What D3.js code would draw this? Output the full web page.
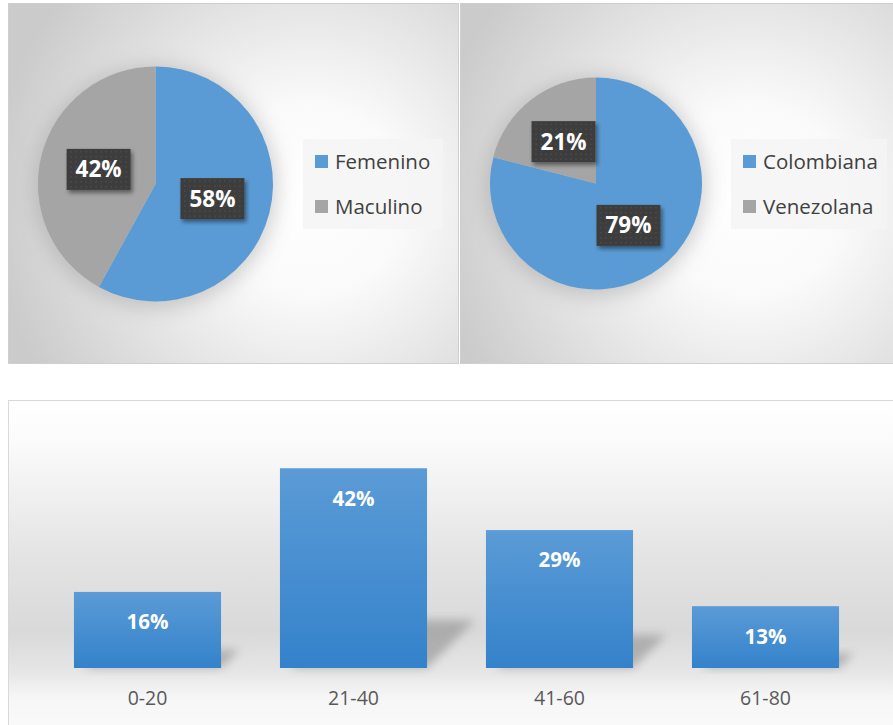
<!DOCTYPE html>
<html><head><meta charset="utf-8">
<script src="https://cdn.jsdelivr.net/npm/d3@7"></script>
<style>html,body{margin:0;padding:0;background:#fff;overflow:hidden}svg{display:block}</style>
</head><body>
<svg id="c" width="893" height="725"></svg>
<script>
const genderCats = ["Femenino", "Maculino"];
const genderVals = [0.58, 0.42];
const nationCats = ["Colombiana", "Venezolana"];
const nationVals = [0.79, 0.21];
const ageCats = ["0-20", "21-40", "41-60", "61-80"];
const ageVals = [0.16, 0.42, 0.29, 0.13];

const BLUE = "#5b9bd5", GRAY = "#a5a5a5";
const FONT = "'Open Sans', 'Liberation Sans', sans-serif";
const svg = d3.select("#c");
const defs = svg.append("defs");

function radial(id, cx, cy, r) {
  const g = defs.append("radialGradient").attr("id", id)
    .attr("gradientUnits", "userSpaceOnUse").attr("cx", cx).attr("cy", cy).attr("r", r);
  g.append("stop").attr("offset", 0).attr("stop-color", "#ffffff");
  g.append("stop").attr("offset", 0.3).attr("stop-color", "#fafafa");
  g.append("stop").attr("offset", 1).attr("stop-color", "#cbcbcb");
}
radial("bgL", 310, 200, 320);
radial("bgR", 750, 200, 320);

const lin = defs.append("linearGradient").attr("id", "bgB").attr("x1", 0).attr("y1", 0).attr("x2", 0).attr("y2", 1);
[[0, "#ffffff"], [0.12, "#fbfbfb"], [0.45, "#e4e4e4"], [0.68, "#d9d9d9"], [0.8, "#e6e6e6"], [0.87, "#f6f6f6"], [1, "#fbfbfb"]]
  .forEach(([o, c]) => lin.append("stop").attr("offset", o).attr("stop-color", c));

const barG = defs.append("linearGradient").attr("id", "barG").attr("x1", 0).attr("y1", 0).attr("x2", 0).attr("y2", 1);
barG.append("stop").attr("offset", 0).attr("stop-color", "#5b9bd6");
barG.append("stop").attr("offset", 1).attr("stop-color", "#3482cb");

const pat = defs.append("pattern").attr("id", "dots").attr("patternUnits", "userSpaceOnUse")
  .attr("width", 5).attr("height", 5);
pat.append("rect").attr("width", 5).attr("height", 5).attr("fill", "#3d3d3d");
pat.append("rect").attr("x", 2).attr("y", 2).attr("width", 1).attr("height", 1).attr("fill", "#5e5e5e");

const blur = defs.append("filter").attr("id", "blur").attr("x", "-30%").attr("y", "-30%").attr("width", "160%").attr("height", "160%");
blur.append("feGaussianBlur").attr("stdDeviation", 10);
const sblur = defs.append("filter").attr("id", "sblur").attr("x", "-40%").attr("y", "-40%").attr("width", "180%").attr("height", "180%");
sblur.append("feGaussianBlur").attr("stdDeviation", 5);
const lblSh = defs.append("filter").attr("id", "lblSh").attr("x", "-30%").attr("y", "-30%").attr("width", "160%").attr("height", "160%");
lblSh.append("feDropShadow").attr("dx", 2).attr("dy", 3).attr("stdDeviation", 2).attr("flood-color", "#000").attr("flood-opacity", 0.45);

svg.append("rect").attr("x", 8.5).attr("y", 3.5).attr("width", 450).attr("height", 360)
  .attr("fill", "url(#bgL)").attr("stroke", "#cfcfcf");
svg.append("rect").attr("x", 460.5).attr("y", 3.5).attr("width", 440).attr("height", 360)
  .attr("fill", "url(#bgR)").attr("stroke", "#cfcfcf");

function pieChart(cats, vals, cx, cy, r, legX, legW) {
  const g = svg.append("g").attr("transform", `translate(${cx},${cy})`);
  g.append("circle").attr("r", r + 4).attr("cy", 3).attr("fill", "#8f8f8f").attr("opacity", 0.4).attr("filter", "url(#blur)");
  const arcs = d3.pie().sort(null).value(d => d)(vals);
  const arc = d3.arc().innerRadius(0).outerRadius(r);
  const color = d3.scaleOrdinal().domain(cats).range([BLUE, GRAY]);
  g.selectAll("path.s").data(arcs).join("path").attr("class", "s")
    .attr("d", arc).attr("fill", (d, i) => color(cats[i]));
  const fmt = d3.format(".0%");
  const lab = g.selectAll("g.l").data(arcs).join("g").attr("class", "l")
    .attr("transform", d => `translate(${arc.centroid(d)})`);
  lab.append("rect").attr("x", -32).attr("y", -20.5).attr("width", 64).attr("height", 41)
    .attr("fill", "url(#dots)").attr("filter", "url(#lblSh)");
  lab.append("text").attr("text-anchor", "middle").attr("dy", "0.36em")
    .attr("fill", "#fff").attr("font-family", FONT).attr("font-weight", 700).attr("font-size", 22.5)
    .text(d => fmt(d.data));
  const lg = svg.append("g").attr("transform", `translate(${legX},139)`);
  lg.append("rect").attr("width", legW).attr("height", 90).attr("fill", "#f4f4f4").attr("opacity", 0.85);
  const it = lg.selectAll("g").data(cats).join("g").attr("transform", (d, i) => `translate(12,${16 + i * 45})`);
  it.append("rect").attr("width", 13).attr("height", 13).attr("fill", d => color(d));
  it.append("text").attr("x", 20).attr("y", 6.5).attr("dy", "0.36em")
    .attr("fill", "#404040").attr("font-family", FONT).attr("font-size", 20.5).text(d => d);
}
pieChart(genderCats, genderVals, 155.5, 184, 117.5, 303, 140);
pieChart(nationCats, nationVals, 596, 183.5, 106, 731, 156);

svg.append("rect").attr("x", 8.5).attr("y", 400.5).attr("width", 900).attr("height", 340)
  .attr("fill", "url(#bgB)").attr("stroke", "#d9d9d9");
const x = d3.scaleBand().domain(ageCats).range([44.5, 868.5]).paddingInner(0.286).paddingOuter(0.143);
const y = d3.scaleLinear().domain([0, 0.45]).range([668, 454]);
const bg = svg.append("g");
bg.selectAll("path.sh").data(ageVals).join("path").attr("class", "sh")
  .attr("d", (d, i) => {
    const x0 = x(ageCats[i]), x1 = x0 + x.bandwidth(), h = (y(0) - y(d)) * 0.24;
    return `M${x0 + 10},${y(0)} L${x1},${y(0)} L${x1 + h},${y(0) - h} L${x0 + 10 + h},${y(0) - h} Z`;
  })
  .attr("fill", "#808080").attr("opacity", 0.5).attr("filter", "url(#sblur)");
bg.selectAll("rect.b").data(ageVals).join("rect").attr("class", "b")
  .attr("x", (d, i) => x(ageCats[i])).attr("width", x.bandwidth())
  .attr("y", d => y(d)).attr("height", d => y(0) - y(d)).attr("fill", "url(#barG)");
bg.selectAll("text.v").data(ageVals).join("text").attr("class", "v")
  .attr("x", (d, i) => x(ageCats[i]) + x.bandwidth() / 2).attr("y", d => y(d) + 30).attr("dy", "0.36em")
  .attr("text-anchor", "middle").attr("fill", "#fff").attr("font-family", FONT).attr("font-weight", 700)
  .attr("font-size", 20.5).text(d => d3.format(".0%")(d));
const ax = svg.append("g").attr("transform", `translate(0,${y(0)})`)
  .call(d3.axisBottom(x).tickSize(0).tickPadding(23));
ax.select(".domain").remove();
ax.selectAll("text").attr("fill", "#595959").attr("font-family", FONT).attr("font-size", 19.5);
</script>
</body></html>
